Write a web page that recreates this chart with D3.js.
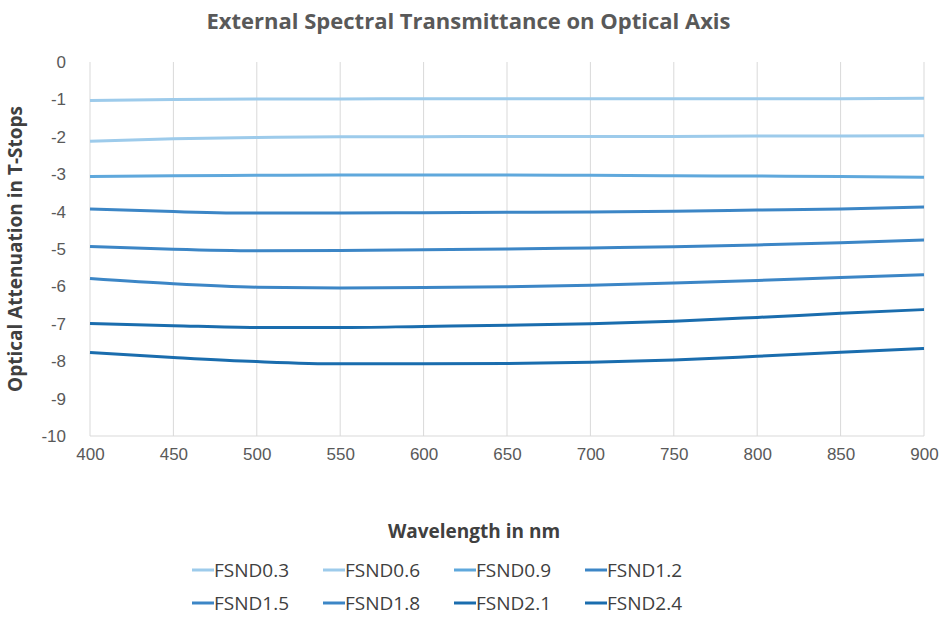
<!DOCTYPE html>
<meta charset="utf-8" />
<script src="https://d3js.org/d3.v7.min.js"></script>
<style>
  body { margin: 0; background: #fff; font-family: "Open Sans", sans-serif; }
  .tick text { font-size: 17px; fill: #595959; }
</style>
<body>
<div id="chart"></div>
<script>
  // wavelengths (nm) and attenuation in T-stops per filter
  var wavelengths = [400, 450, 500, 550, 600, 650, 700, 750, 800, 850, 900];
  var names = ["FSND0.3", "FSND0.6", "FSND0.9", "FSND1.2", "FSND1.5", "FSND1.8", "FSND2.1", "FSND2.4"];
  var fsnd03 = [-1.03, -1.0, -0.99, -0.99, -0.98, -0.98, -0.98, -0.98, -0.98, -0.98, -0.97];
  var fsnd06 = [-2.12, -2.05, -2.02, -2.0, -2.0, -1.99, -1.99, -1.99, -1.98, -1.98, -1.97];
  var fsnd09 = [-3.06, -3.04, -3.03, -3.02, -3.02, -3.02, -3.03, -3.04, -3.05, -3.06, -3.08];
  var fsnd12 = [-3.93, -4.0, -4.04, -4.04, -4.03, -4.02, -4.01, -3.99, -3.96, -3.93, -3.88];
  var fsnd15 = [-4.93, -5.01, -5.05, -5.04, -5.02, -5.0, -4.97, -4.94, -4.89, -4.83, -4.76];
  var fsnd18 = [-5.79, -5.93, -6.02, -6.04, -6.03, -6.01, -5.97, -5.91, -5.84, -5.76, -5.69];
  var fsnd21 = [-6.99, -7.05, -7.1, -7.1, -7.07, -7.04, -7.0, -6.93, -6.83, -6.72, -6.62];
  var fsnd24 = [-7.77, -7.9, -8.01, -8.07, -8.07, -8.06, -8.03, -7.97, -7.87, -7.76, -7.66];
  var series = [fsnd03, fsnd06, fsnd09, fsnd12, fsnd15, fsnd18, fsnd21, fsnd24];
  var colors = ["#9dcbeb", "#9dcbeb", "#5fa8dc", "#3c86c6", "#3c86c6", "#3c86c6", "#1a6dae", "#1a6dae"];

  var W = 947, H = 626;
  var margin = { top: 62, right: 23, bottom: 190, left: 90 },
    width = W - margin.left - margin.right,
    height = H - margin.top - margin.bottom;

  var root = d3.select("#chart").append("svg").attr("width", W).attr("height", H);
  var svg = root.append("g").attr("transform", "translate(" + margin.left + "," + margin.top + ")");

  var x = d3.scaleLinear().domain([400, 900]).range([0, width]);
  var y = d3.scaleLinear().domain([-10, 0]).range([height, 0]);

  // vertical gridlines
  svg.append("g")
    .selectAll("line")
    .data(d3.range(400, 901, 50))
    .enter()
    .append("line")
    .attr("x1", function(d) { return x(d); })
    .attr("x2", function(d) { return x(d); })
    .attr("y1", 0)
    .attr("y2", height)
    .attr("stroke", "#d9d9d9");

  svg.append("line").attr("x1", 0).attr("x2", width).attr("y1", height).attr("y2", height).attr("stroke", "#d9d9d9");

  var xAxis = svg.append("g")
    .attr("transform", "translate(0," + height + ")")
    .call(d3.axisBottom(x).tickValues(d3.range(400, 901, 50)).tickSize(0).tickPadding(12));
  xAxis.select(".domain").remove();

  var yAxis = svg.append("g")
    .call(d3.axisLeft(y).ticks(10).tickSize(0).tickPadding(24)
      .tickFormat(function(d) { return String(d); }));
  yAxis.select(".domain").remove();

  var line = d3.line()
    .x(function(d, i) { return x(wavelengths[i]); })
    .y(function(d) { return y(d); })
    .curve(d3.curveMonotoneX);

  series.forEach(function(s, i) {
    svg.append("path")
      .datum(s)
      .attr("d", line)
      .attr("fill", "none")
      .attr("stroke", colors[i])
      .attr("stroke-width", 3);
  });

  // title and axis labels
  root.append("text")
    .attr("x", W / 2 - 5).attr("y", 29)
    .attr("text-anchor", "middle")
    .style("font-size", "22px").style("font-weight", "bold").style("fill", "#595959")
    .text("External Spectral Transmittance on Optical Axis");

  root.append("text")
    .attr("x", 474).attr("y", 538)
    .attr("text-anchor", "middle")
    .style("font-size", "19px").style("font-weight", "bold").style("fill", "#404040")
    .text("Wavelength in nm");

  root.append("text")
    .attr("transform", "translate(22," + (margin.top + height / 2) + ") rotate(-90)")
    .attr("text-anchor", "middle")
    .style("font-size", "19px").style("font-weight", "bold").style("fill", "#404040")
    .text("Optical Attenuation in T-Stops");

  // legend
  var legend = root.append("g");
  names.forEach(function(n, i) {
    var col = i % 4, row = Math.floor(i / 4);
    var lx = 192 + col * 131, ly = 570 + row * 33;
    legend.append("line")
      .attr("x1", lx).attr("x2", lx + 22)
      .attr("y1", ly).attr("y2", ly)
      .attr("stroke", colors[i]).attr("stroke-width", 3);
    legend.append("text")
      .attr("x", lx + 22).attr("y", ly + 7)
      .style("font-size", "19px").style("fill", "#404040")
      .text(n);
  });
</script>
</body>
